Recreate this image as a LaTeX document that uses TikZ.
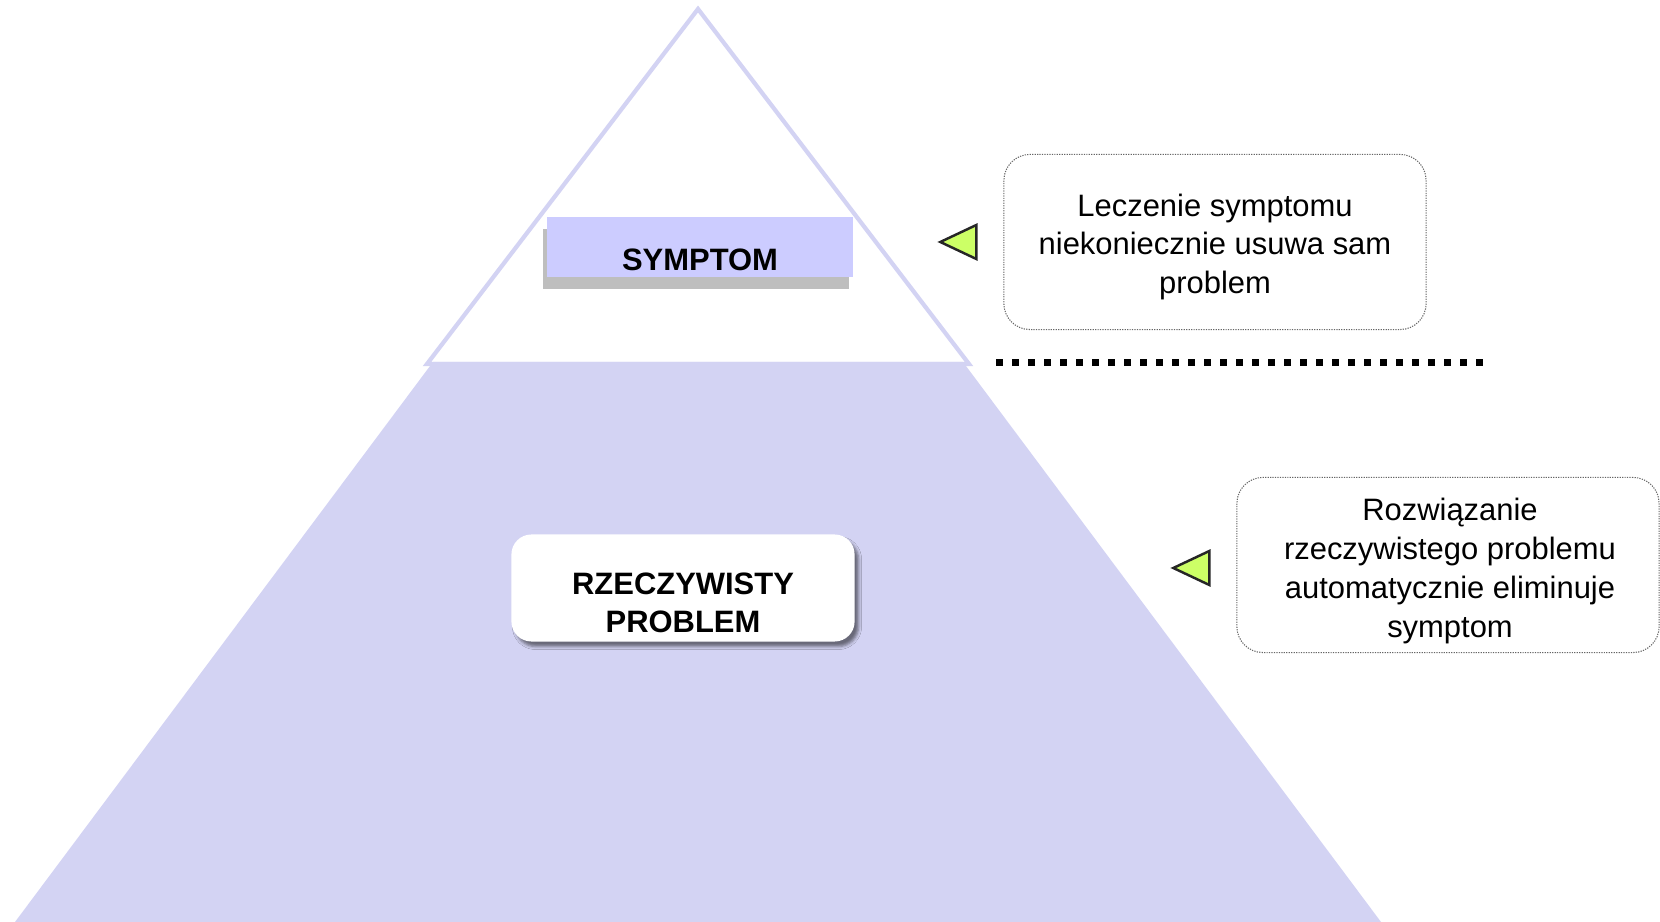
\documentclass[tikz,border=0pt]{standalone}
\usepackage{fontspec}
\setmainfont{Liberation Sans}
\usetikzlibrary{shadows,shadows.blur}
\definecolor{lila}{RGB}{211,211,243}
\definecolor{lilasym}{RGB}{204,204,255}
\definecolor{sombra}{RGB}{190,190,190}
\definecolor{verde}{RGB}{204,255,102}
\newcommand{\letra}{\fontsize{8.8}{11}\selectfont}

\begin{document}
\begin{tikzpicture}[x=0.01cm,y=-0.01cm,
symp/.style ={rectangle, fill=lilasym, minimum width=3.05cm, inner ysep=0pt, text height=0.54cm, text depth=0.06cm, font=\letra\bfseries, drop shadow={shadow xshift=-0.04cm, shadow yshift=-0.12cm, fill=sombra, opacity=1}},
prob/.style ={rectangle, fill=white, rounded corners=0.2cm, minimum width=3.43cm, minimum height=1.07cm, blur shadow={shadow xshift=0.04cm, shadow yshift=-0.05cm, shadow blur radius=0.03cm, shadow opacity=50}},
negrita/.style ={align=center, font=\letra\bfseries},
nota/.style ={rectangle, draw=black!60, line width=0.3pt, dash pattern=on 0.35pt off 0.35pt, rounded corners=0.26cm, minimum width=4.22cm, minimum height=1.75cm},
tekst/.style ={align=center, font=\letra},
punta/.style ={draw=black!85, line width=0.7pt, fill=verde, line join=miter},
kropki/.style ={line width=0.07cm, dash pattern=on 0.07cm off 0.09cm}
]
\useasboundingbox (0,0) rectangle (1660,922);
% piramida
\draw[lila, line width=1.2pt, line join=miter] (698,9) -- (427,364) -- (969,364) -- cycle;
\fill[lila] (433,362) -- (963,362) -- (1381,922) -- (15,922) -- cycle;

\draw (700,271) node[symp, anchor=base] (S) {SYMPTOM};
\draw (683,588) node[prob] (P) {};
\draw (683,603) node[negrita] (PT) {RZECZYWISTY\\PROBLEM};

\draw (1215,242) node[nota] (lecz) {};
\draw (1215,247) node[tekst] (leczT) {Leczenie symptomu\\niekoniecznie usuwa sam\\problem};
\draw (1448,565) node[nota] (rozw) {};
\draw (1450,571) node[tekst] (rozwT) {Rozwiązanie\\rzeczywistego problemu\\automatycznie eliminuje\\symptom};

\foreach \b/\dy in {lecz/0,rozw/-0.03}
  \draw[punta] ([xshift=-0.27cm,yshift=0.17cm+\dy cm]\b.west) -- ([xshift=-0.27cm,yshift=-0.17cm+\dy cm]\b.west) -- ([xshift=-0.63cm,yshift=\dy cm]\b.west) -- cycle;

\coordinate (k1) at (996,363);
\coordinate (k2) at (1484,363);
\draw[kropki] (k1) -- (k2);

\end{tikzpicture}
\end{document}
